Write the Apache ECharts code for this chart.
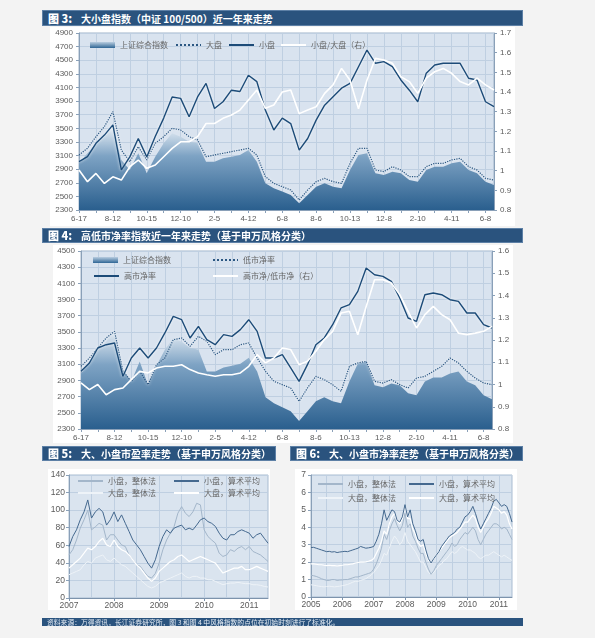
<!DOCTYPE html>
<html>
<head>
<meta charset="utf-8">
<script src="https://cdn.jsdelivr.net/npm/echarts@6/dist/echarts.min.js"></script>
<style>
  html, body { margin: 0; padding: 0; background: #f3f3f3; }
  #page { position: relative; width: 595px; height: 638px; overflow: hidden; }
  .panel { position: absolute; background: #fff; z-index: 0; }
  .bar { position: absolute; background: #2a537e; border: 1px solid #5d80a6; box-sizing: border-box;
         color: #fff; font-family: 'Noto Sans CJK SC', sans-serif; font-weight: bold;
         font-size: 10px; line-height: 14px; padding-left: 5px; white-space: nowrap; z-index: 3; }
  .bar b { font-size: 11px; margin-right: 9px; }
  .foot { position: absolute; background: #2a537e; color: #e6edf5; z-index: 3;
          font-family: 'Noto Sans CJK SC', sans-serif; font-size: 6.8px; line-height: 8px;
          padding-left: 5px; white-space: nowrap; box-sizing: border-box; }
  #chart { position: absolute; left: 0; top: 0; width: 595px; height: 638px; z-index: 2; }
</style>
</head>
<body>
<div id="page">
  <div class="panel" style="left:50px;top:27px;width:465px;height:199px"></div>
  <div class="panel" style="left:53px;top:245px;width:460px;height:198px"></div>
  <div class="panel" style="left:48px;top:469px;width:222px;height:141px"></div>
  <div class="panel" style="left:295px;top:469px;width:222px;height:141px"></div>
  <div class="bar" style="left:42px;top:10px;width:481px;height:16px"><b>图 3:</b>大小盘指数（中证 100/500）近一年来走势</div>
  <div class="bar" style="left:42px;top:228px;width:481px;height:15px;line-height:13px"><b>图 4:</b>高低市净率指数近一年来走势（基于申万风格分类）</div>
  <div class="bar" style="left:42px;top:446px;width:234px;height:15px;line-height:13px"><b>图 5:</b>大、小盘市盈率走势（基于申万风格分类）</div>
  <div class="bar" style="left:290px;top:446px;width:233px;height:15px;line-height:13px"><b>图 6:</b>大、小盘市净率走势（基于申万风格分类）</div>
  <div class="foot" style="left:42px;top:618px;width:481px;height:8px">资料来源：万得资讯，长江证券研究所，图 3 和图 4 中风格指数的点位在初始时刻进行了标准化。</div>
  <div id="chart"></div>
</div>
<script>
// 图3/图4 横轴标签（每4个点一个）
const dateLabels = ['6-17', '8-12', '10-15', '12-10', '2-5', '4-12', '6-8', '8-6', '10-13', '12-8', '2-10', '4-11', '6-8'];

// 上证综合指数
const sh = [2986, 3133, 3280, 3377, 3525, 3035, 2888, 3133, 2840, 3083, 3280, 3426, 3377, 3304, 3280, 3010, 3010, 3059, 3083, 3108,
  3181, 3010, 2692, 2618, 2570, 2520, 2400, 2520, 2643, 2692, 2643, 2618, 2888, 3108, 3133, 2840, 2815, 2863, 2840, 2741,
  2716, 2888, 2937, 2937, 2986, 3010, 2888, 2840, 2716, 2667];

// 图3
const bigCap = [3108, 3206, 3377, 3525, 3745, 3180, 3010, 3230, 3035, 3280, 3377, 3500, 3475, 3377, 3330, 3083, 3108, 3133, 3157, 3181,
  3206, 3108, 2790, 2692, 2643, 2594, 2447, 2594, 2716, 2765, 2716, 2692, 2986, 3206, 3206, 2888, 2863, 2937, 2888, 2790,
  2790, 2937, 2986, 2986, 3035, 3059, 2937, 2888, 2765, 2741];
const smallCap = [3010, 3084, 3280, 3400, 3550, 2890, 3080, 3350, 3080, 3380, 3650, 3960, 3940, 3670, 3960, 4160, 3790, 3890, 4060, 4040,
  4280, 4185, 3770, 3475, 3650, 3570, 3180, 3350, 3620, 3840, 3965, 4090, 4160, 4405, 4650, 4455, 4480, 4405, 4210, 4060,
  3890, 4310, 4430, 4455, 4455, 4455, 4235, 4210, 3890, 3820];
const ratioSB = [1.003, 0.944, 0.986, 0.935, 0.969, 0.952, 1.02, 1.054, 1.012, 1.029, 1.071, 1.113, 1.147, 1.147, 1.173, 1.24, 1.24, 1.266, 1.283, 1.308,
  1.359, 1.41, 1.317, 1.334, 1.4, 1.41, 1.29, 1.308, 1.325, 1.393, 1.436, 1.52, 1.46, 1.315, 1.46, 1.571, 1.563, 1.546, 1.478, 1.453,
  1.393, 1.47, 1.503, 1.52, 1.495, 1.453, 1.436, 1.47, 1.436, 1.41];

// 图4
const lowPB = [3074, 3177, 3301, 3425, 3507, 3013, 2889, 3013, 2848, 3095, 3177, 3404, 3425, 3322, 3445, 3384, 3219, 3280, 3280, 3342,
  3363, 3177, 3013, 2889, 2848, 2807, 2642, 2807, 2951, 2910, 2848, 2765, 3074, 3116, 3136, 2889, 2868, 2910, 2848, 2807,
  2930, 2951, 3013, 3074, 3177, 3116, 3013, 2930, 2868, 2848];
const highPB = [3013, 3116, 3301, 3342, 3363, 2951, 3177, 3301, 3177, 3301, 3487, 3692, 3651, 3425, 3569, 3404, 3342, 3466, 3445, 3528,
  3651, 3507, 3177, 3177, 3219, 3054, 2889, 3095, 3342, 3425, 3589, 3796, 3837, 4001, 4290, 4207, 4187, 4125, 3919, 3672,
  3631, 3960, 3981, 3960, 3898, 3878, 3734, 3734, 3589, 3548];
const ratioHL = [1.007, 0.977, 1.0, 0.954, 0.977, 0.984, 1.022, 1.059, 1.052, 1.074, 1.082, 1.082, 1.089, 1.067, 1.052, 1.044, 1.037, 1.044, 1.044, 1.052,
  1.082, 1.134, 1.097, 1.119, 1.164, 1.157, 1.089, 1.104, 1.149, 1.202, 1.239, 1.321, 1.329, 1.224, 1.351, 1.471, 1.471, 1.456, 1.404, 1.329,
  1.254, 1.314, 1.351, 1.314, 1.291, 1.231, 1.224, 1.231, 1.239, 1.261];

// 图5 市盈率（月度，2007-01 ~ 2011-06）
const peSmallWhole = [49, 55, 66, 79.5, 89, 100, 77.6, 81, 85, 83, 66, 72,
  72, 66, 60.5, 58.6, 49, 43.5, 37.8, 36, 30, 24.6, 22.7, 28,
  39.7, 55, 66, 73.8, 81.4, 96.5, 104, 96.5, 92.7, 98, 107.8, 106,
  77.6, 70, 66, 62.4, 51, 47.3, 49, 55, 53, 56.8, 58.6, 55,
  58.6, 53, 51, 49, 45.4, 41.6];
const peSmallAvg = [58.6, 70, 77.6, 89, 98, 111.6, 91, 98, 102, 98, 83, 89,
  98, 87, 94.6, 85, 75.7, 66, 60.5, 54.9, 47.3, 39.7, 34, 43.5,
  58.6, 70, 77.6, 73.8, 79.5, 81.4, 83, 77.6, 79.5, 77.6, 83, 89,
  91, 87, 85, 81.4, 73.8, 68, 66, 72, 72, 75.7, 77.6, 75.7,
  73.8, 68, 72, 73.8, 68, 62.4];
const peBigWhole = [26.5, 28.4, 30.3, 32.2, 37.8, 41.6, 39.7, 45.4, 47.3, 49, 43.5, 41.6,
  45.4, 41.6, 37.8, 36, 32.2, 28.4, 24.6, 20.8, 17, 13.2, 11.4, 13.2,
  17, 18.9, 20.8, 22.7, 24.6, 26.5, 28.4, 24.6, 22.7, 24.6, 24.6, 22.7,
  22.7, 20.8, 20.8, 18.9, 17, 15.1, 16.3, 17, 17, 17.8, 17, 16.3,
  16.3, 15.1, 15.1, 14.4, 13.2, 12.5];
const peBigAvg = [34, 37.8, 41.6, 45.4, 51, 56.8, 55, 58.6, 64.3, 68, 60.5, 58.6,
  66, 58.6, 55, 53, 49, 43.5, 37.8, 34, 28.4, 22.7, 18.9, 22.7,
  30.3, 34, 37.8, 41.6, 43.5, 47.3, 49, 45.4, 41.6, 43.5, 45.4, 47.3,
  45.4, 43.5, 41.6, 39.7, 34, 28.4, 30.3, 32.2, 34, 34, 36, 32.2,
  32.2, 34, 36, 34, 32.2, 30.3];

// 图6 市净率（月度，2005-01 ~ 2011-06）
const pbSmallWhole = [1.25, 1.22, 1.18, 1.12, 1.05, 1.0, 0.95, 0.95, 1.0, 1.0, 0.95, 0.97,
  0.98, 1.0, 1.0, 1.05, 1.1, 1.15, 1.15, 1.2, 1.25, 1.3, 1.35, 1.4,
  1.6, 1.9, 2.3, 2.8, 3.6, 3.3, 3.8, 4.2, 4.5, 4.1, 3.8, 4.1,
  4.8, 4.0, 4.2, 3.5, 3.2, 2.8, 2.5, 2.5, 2.0, 1.6, 1.3, 1.5,
  1.8, 2.0, 2.2, 2.4, 2.6, 2.8, 3.1, 2.9, 3.0, 3.3, 3.5, 3.7,
  3.6, 3.8, 4.0, 3.8, 3.3, 3.0, 3.3, 3.6, 3.8, 4.0, 4.2, 4.2,
  4.1, 3.9, 4.0, 3.9, 3.6, 3.3];
const pbSmallAvg = [2.84, 2.85, 2.8, 2.75, 2.7, 2.65, 2.6, 2.62, 2.58, 2.6, 2.55, 2.58,
  2.6, 2.62, 2.6, 2.65, 2.7, 2.75, 2.8, 2.9, 2.85, 2.8, 2.82, 2.85,
  2.9, 3.2, 3.6, 4.2, 5.0, 4.4, 4.7, 5.0, 4.9, 4.4, 4.3, 4.6,
  5.3, 4.6, 5.0, 4.2, 3.8, 3.3, 3.2, 3.3, 2.7, 2.2, 1.95, 2.2,
  2.4, 2.6, 2.9, 3.1, 3.3, 3.5, 3.6, 3.7, 3.9, 4.0, 4.3, 4.6,
  4.7, 4.9, 5.2, 4.8, 4.3, 3.9, 4.2, 4.5, 4.8, 5.1, 5.5, 5.6,
  5.4, 5.2, 5.3, 5.2, 4.8, 4.3];
const pbBigWhole = [0.7, 0.68, 0.65, 0.62, 0.6, 0.58, 0.6, 0.62, 0.6, 0.58, 0.6, 0.62,
  0.65, 0.68, 0.72, 0.78, 0.85, 0.9, 0.9, 0.95, 1.0, 1.05, 1.15, 1.25,
  1.4, 1.6, 1.8, 2.1, 2.5, 2.4, 2.8, 3.2, 3.5, 3.3, 3.0, 3.2,
  3.7, 3.2, 3.0, 2.8, 2.6, 2.3, 2.0, 2.0, 1.7, 1.4, 1.3, 1.4,
  1.6, 1.8, 1.9, 2.1, 2.2, 2.4, 2.6, 2.5, 2.6, 2.8, 2.9, 2.8,
  2.7, 2.7, 2.6, 2.5, 2.3, 2.2, 2.3, 2.4, 2.4, 2.5, 2.6, 2.5,
  2.4, 2.3, 2.4, 2.3, 2.2, 2.1];
const pbBigAvg = [1.9, 1.9, 1.88, 1.85, 1.85, 1.82, 1.8, 1.82, 1.8, 1.8, 1.78, 1.8,
  1.82, 1.85, 1.85, 1.88, 1.9, 1.95, 1.98, 2.0, 2.0, 2.02, 2.05, 2.1,
  2.2, 2.5, 2.8, 3.2, 3.8, 3.6, 4.2, 4.6, 4.8, 4.4, 4.2, 4.5,
  5.2, 4.5, 4.5, 3.9, 3.6, 3.1, 2.9, 3.0, 2.5, 2.1, 1.95, 2.2,
  2.4, 2.6, 2.8, 3.0, 3.2, 3.4, 3.5, 3.6, 3.7, 3.9, 4.1, 4.3,
  4.3, 4.5, 4.7, 4.5, 4.0, 3.7, 4.0, 4.3, 4.5, 4.8, 5.2, 5.1,
  5.0, 4.8, 4.9, 4.7, 4.2, 3.9];

const monthCats = (y0, n) => {
  const a = [];
  for (let i = 0; i < n; i++) a.push((y0 + Math.floor(i / 12)) + '-' + String(i % 12 + 1).padStart(2, '0'));
  return a;
};
const dayCats = sh.map((_, i) => String(i));
const months5 = monthCats(2007, peSmallAvg.length);
const months6 = monthCats(2005, pbSmallAvg.length);

const chart = echarts.init(document.getElementById('chart'), null, { renderer: 'canvas' });

const labelFont = { fontFamily: 'Liberation Sans', fontSize: 8, color: '#5b5b5b' };
const axisLineColor = '#8aa0b8';
const gridLineColor = '#bfcfe1';
const glow = { shadowColor: 'rgba(255,255,255,0.85)', shadowBlur: 3 };

const areaGrad = () => new echarts.graphic.LinearGradient(0, 0, 0, 1, [
  { offset: 0, color: 'rgba(232,239,246,0.95)' },
  { offset: 0.35, color: '#7ea3c4' },
  { offset: 1, color: '#2a5f8e' }
]);

const dayX = (gi) => ({
  gridIndex: gi, type: 'category', data: dayCats, boundaryGap: false,
  axisLine: { lineStyle: { color: axisLineColor } },
  axisTick: { interval: 1, length: 3, lineStyle: { color: axisLineColor } },
  axisLabel: { interval: 3, margin: 5, ...labelFont, formatter: (v, idx) => dateLabels[idx / 4] },
  splitLine: { show: true, interval: 1, lineStyle: { color: gridLineColor } }
});
const monthX = (gi, cats) => ({
  gridIndex: gi, type: 'category', data: cats, boundaryGap: false,
  axisLine: { lineStyle: { color: '#7d93ac' } },
  axisTick: { interval: 11, length: 3, lineStyle: { color: '#7d93ac' } },
  axisLabel: { interval: 11, margin: 3, ...labelFont, fontSize: 8.5, formatter: v => v.slice(0, 4) },
  splitLine: { show: true, interval: 5, lineStyle: { color: gridLineColor } }
});
const valY = (gi, min, max, interval, pos, split) => ({
  gridIndex: gi, type: 'value', min, max, interval, position: pos,
  axisLine: { show: true, lineStyle: { color: axisLineColor } },
  axisTick: { show: true, length: 3, lineStyle: { color: axisLineColor } },
  axisLabel: { margin: 6, ...labelFont, formatter: v => String(+v.toFixed(2)) },
  splitLine: { show: split, lineStyle: { color: gridLineColor } }
});

const line = (name, x, y, data, color, width, extra) => ({
  name, type: 'line', xAxisIndex: x, yAxisIndex: y, data, symbol: 'none',
  lineStyle: Object.assign({ color, width }, extra || {}),
  itemStyle: { color }
});
const area = (x, y) => ({
  name: '上证综合指数', type: 'line', xAxisIndex: x, yAxisIndex: y, data: sh, symbol: 'none',
  lineStyle: { width: 0 }, itemStyle: { color: '#3a6f9c' },
  areaStyle: { color: areaGrad(), opacity: 1 }
});

const legendText = { fontFamily: 'Noto Sans CJK SC', fontSize: 8, color: '#666' };
// 图例只画线，不画中间的圆点
const lg = (name, left, cy, opt) => Object.assign({
  left, top: cy - 5, padding: 0, itemWidth: 25, itemHeight: 4, itemGap: 0,
  selectedMode: false, textStyle: legendText, itemStyle: { opacity: 0 }, data: [name]
}, opt || {});
const bold = { lineStyle: { width: 2 } };
const swatch = {
  itemHeight: 6, itemStyle: { opacity: 1 },
  data: [{ name: '上证综合指数', icon: 'rect', itemStyle: { opacity: 1, color: new echarts.graphic.LinearGradient(0, 0, 0, 1, [
    { offset: 0, color: '#b9cde0' }, { offset: 1, color: '#2f6695' }]) } }]
};

const option = {
  backgroundColor: 'transparent',
  animation: false,
  grid: [
    { left: 79, top: 33, width: 415, height: 177, show: true, backgroundColor: '#d9e3ef', borderColor: '#9fb3c9', borderWidth: 1 },
    { left: 81, top: 251, width: 411, height: 178, show: true, backgroundColor: '#d9e3ef', borderColor: '#9fb3c9', borderWidth: 1 },
    { left: 69, top: 475, width: 199, height: 123, show: true, backgroundColor: '#dae4ef', borderColor: '#a9bcd1', borderWidth: 1 },
    { left: 311, top: 475, width: 201, height: 122, show: true, backgroundColor: '#dae4ef', borderColor: '#a9bcd1', borderWidth: 1 }
  ],
  xAxis: [dayX(0), dayX(1), monthX(2, months5), monthX(3, months6)],
  yAxis: [
    valY(0, 2300, 4900, 200, 'left', true),
    valY(0, 0.8, 1.7, 0.1, 'right', false),
    valY(1, 2300, 4500, 200, 'left', true),
    valY(1, 0.8, 1.6, 0.1, 'right', false),
    Object.assign(valY(2, 0, 140, 20, 'left', true), { axisLabel: { margin: 4, ...labelFont, fontSize: 8.5 } }),
    Object.assign(valY(3, 0, 7, 1, 'left', true), { axisLabel: { margin: 5, ...labelFont, fontSize: 8.5 } })
  ],
  legend: [
    lg('上证综合指数', 90, 46, swatch),
    lg('大盘', 175, 46, bold),
    lg('小盘', 228, 46, bold),
    lg('小盘/大盘（右）', 280, 46, bold),
    lg('上证综合指数', 93, 261, swatch),
    lg('低市净率', 212, 261, bold),
    lg('高市净率', 93, 277, bold),
    lg('高市净/低市净（右）', 212, 277, bold),
    lg('小盘，整体法', 77, 482),
    lg('小盘，算术平均', 173, 482),
    lg('大盘，整体法', 77, 494),
    lg('大盘，算术平均', 173, 494),
    lg('小盘，整体法', 317, 485),
    lg('小盘，算术平均', 408, 485),
    lg('大盘，整体法', 317, 499),
    lg('大盘，算术平均', 408, 499)
  ],
  series: [
    area(0, 0),
    line('大盘', 0, 0, bigCap, '#2b5782', 1.2, Object.assign({ type: 'dotted' }, glow)),
    line('小盘', 0, 0, smallCap, '#1c4b78', 1.4, glow),
    line('小盘/大盘（右）', 0, 1, ratioSB, '#ffffff', 1.6),

    area(1, 2),
    line('低市净率', 1, 2, lowPB, '#2b5782', 1.2, Object.assign({ type: 'dotted' }, glow)),
    line('高市净率', 1, 2, highPB, '#1c4b78', 1.4, glow),
    line('高市净/低市净（右）', 1, 3, ratioHL, '#ffffff', 1.6),

    line('大盘，整体法', 2, 4, peBigWhole, '#eef3f8', 1),
    line('小盘，整体法', 2, 4, peSmallWhole, '#a3b6ca', 1),
    line('大盘，算术平均', 2, 4, peBigAvg, '#ffffff', 1.2),
    line('小盘，算术平均', 2, 4, peSmallAvg, '#45698f', 1),

    line('大盘，整体法', 3, 5, pbBigWhole, '#eef3f8', 1),
    line('小盘，整体法', 3, 5, pbSmallWhole, '#a3b6ca', 1),
    line('大盘，算术平均', 3, 5, pbBigAvg, '#ffffff', 1.2),
    line('小盘，算术平均', 3, 5, pbSmallAvg, '#45698f', 1)
  ]
};

chart.setOption(option);
</script>
</body>
</html>
